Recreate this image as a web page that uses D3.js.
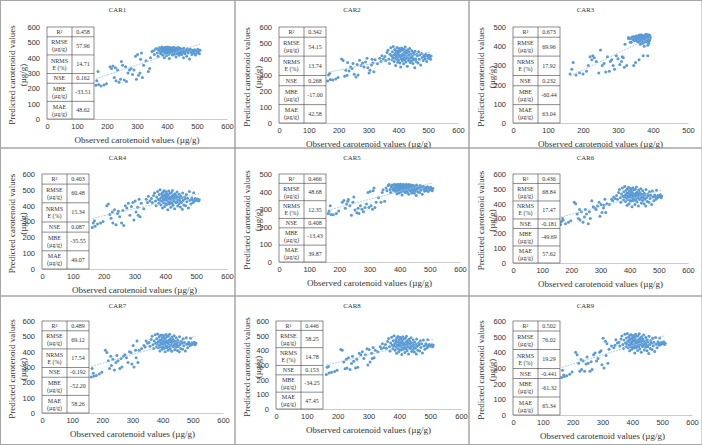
<!DOCTYPE html>
<html>
<head>
<meta charset="utf-8">
<script src="https://cdn.jsdelivr.net/npm/d3@7"></script>
<style>
body { margin: 0; background: #fff; }
svg { display: block; font-family: "Liberation Serif", "Times New Roman", serif; }
</style>
</head>
<body>
<script>
//Panel names
var panelNames = ["CAR1", "CAR2", "CAR3", "CAR4", "CAR5", "CAR6", "CAR7", "CAR8", "CAR9"];

//Axis maxima
var xMax = [600, 600, 500, 600, 600, 600, 600, 600, 600];
var yMax = [600, 600, 500, 600, 500, 600, 600, 600, 600];

//Observed values (shared by all panels except CAR3)
var observed = [163, 166, 170, 172, 180, 190, 198, 210, 215, 220,
  224, 228, 230, 235, 240, 245, 248, 252, 258, 262,
  265, 270, 275, 280, 285, 290, 295, 298, 302, 305,
  310, 312, 315, 318, 322, 330, 338, 342, 345, 350,
  355, 358, 362, 365, 368, 370, 372, 375, 377, 379,
  380, 382, 383, 385, 386, 388, 389, 390, 391, 392,
  393, 394, 395, 396, 397, 398, 399, 400, 401, 402,
  403, 404, 405, 406, 407, 408, 409, 410, 411, 412,
  413, 414, 415, 416, 417, 418, 419, 420, 421, 422,
  423, 424, 425, 426, 427, 428, 430, 431, 432, 434,
  435, 436, 437, 438, 440, 441, 442, 444, 445, 446,
  448, 449, 450, 452, 453, 455, 456, 458, 460, 462,
  464, 466, 468, 470, 472, 475, 478, 480, 483, 486,
  488, 490, 492, 495, 497, 500, 503, 505, 508, 510];

var observedCar3 = [163, 168, 172, 180, 190, 200, 210, 215, 220, 225,
  228, 232, 238, 245, 250, 255, 260, 265, 270, 275,
  278, 282, 286, 290, 295, 300, 305, 310, 312, 315,
  318, 320, 325, 330, 335, 345, 350, 360, 372, 385,
  330, 335, 338, 340, 342, 345, 347, 348, 350, 352,
  353, 355, 356, 357, 358, 359, 360, 361, 362, 363,
  364, 365, 366, 367, 368, 369, 370, 371, 372, 373,
  374, 375, 376, 377, 378, 379, 380, 381, 382, 383,
  384, 385, 386, 386, 387, 387, 388, 388, 389, 389,
  390, 390, 391, 391, 392, 385, 380, 375, 370, 365];

//Predicted values per model
var predictedCar1 = [220, 250, 310, 225, 215, 222, 230, 340, 330, 345,
  270, 335, 250, 320, 240, 260, 375, 350, 255, 340,
  245, 300, 320, 330, 290, 320, 410, 260, 420, 285,
  300, 390, 430, 270, 350, 380, 310, 330, 400, 440,
  445, 420, 455, 460, 430, 410, 450, 465, 440, 425,
  458, 435, 470, 448, 415, 462, 438, 452, 400, 466,
  444, 428, 456, 468, 436, 412, 460, 447, 432, 455,
  470, 441, 420, 463, 450, 395, 458, 437, 466, 445,
  428, 452, 461, 433, 447, 418, 465, 440, 455, 430,
  468, 446, 422, 459, 437, 451, 405, 463, 442, 426,
  457, 449, 434, 466, 415, 453, 440, 428, 460, 445,
  438, 420, 455, 432, 448, 400, 462, 436, 425, 450,
  443, 410, 458, 430, 447, 392, 455, 435, 420, 448,
  440, 428, 452, 418, 445, 430, 455, 440, 425, 448];

var predictedCar2 = [263, 300, 310, 272, 268, 275, 285, 400, 390, 292,
  330, 298, 378, 325, 350, 340, 372, 305, 288, 365,
  300, 392, 360, 375, 350, 382, 405, 345, 312, 330,
  362, 398, 375, 320, 395, 370, 405, 385, 420, 400,
  415, 390, 440, 455, 400, 372, 430, 470, 420, 395,
  445, 410, 478, 425, 385, 460, 405, 435, 360, 450,
  418, 398, 438, 472, 408, 380, 452, 428, 392, 442,
  465, 412, 375, 448, 422, 350, 458, 402, 468, 415,
  388, 432, 455, 398, 428, 370, 462, 410, 440, 395,
  475, 420, 382, 450, 405, 436, 355, 458, 415, 390,
  445, 425, 400, 465, 378, 432, 410, 388, 452, 418,
  405, 372, 440, 395, 428, 345, 448, 402, 385, 430,
  420, 375, 445, 398, 425, 362, 435, 410, 390, 422,
  415, 400, 430, 385, 420, 405, 425, 412, 398, 418];

var predictedCar3 = [255, 280, 315, 250, 262, 255, 270, 300, 345, 330,
  350, 340, 320, 260, 380, 300, 310, 265, 345, 270,
  320, 330, 300, 280, 350, 335, 305, 320, 345, 340,
  290, 410, 300, 440, 420, 300, 315, 330, 350, 350,
  445, 440, 420, 448, 435, 450, 428, 440, 445, 432,
  455, 425, 447, 438, 452, 420, 443, 458, 430, 446,
  410, 450, 437, 460, 425, 442, 455, 433, 448, 418,
  452, 440, 428, 458, 445, 435, 450, 422, 456, 440,
  430, 460, 445, 425, 452, 438, 447, 415, 458, 432,
  444, 428, 455, 438, 446, 405, 462, 400, 415, 425];

var predictedCar4 = [262, 290, 305, 270, 285, 290, 300, 400, 410, 345,
  320, 360, 290, 375, 280, 350, 365, 330, 290, 370,
  275, 400, 385, 415, 340, 395, 420, 310, 430, 360,
  390, 340, 440, 330, 415, 380, 440, 420, 460, 430,
  445, 420, 465, 480, 430, 400, 455, 490, 440, 415,
  470, 435, 500, 448, 405, 475, 428, 460, 385, 485,
  444, 418, 462, 495, 436, 395, 470, 447, 412, 458,
  488, 432, 408, 473, 450, 375, 466, 425, 492, 440,
  410, 452, 478, 422, 447, 390, 482, 438, 460, 415,
  496, 446, 402, 468, 430, 455, 380, 476, 442, 418,
  465, 449, 425, 486, 398, 453, 436, 412, 472, 445,
  428, 392, 460, 420, 448, 378, 480, 432, 405, 455,
  443, 400, 470, 425, 447, 385, 490, 435, 410, 448,
  438, 420, 482, 430, 445, 440, 435, 442, 430, 438];

var predictedCar5 = [275, 290, 320, 270, 268, 275, 290, 340, 350, 305,
  330, 345, 355, 320, 265, 340, 370, 295, 280, 305,
  275, 320, 300, 285, 310, 330, 395, 310, 400, 320,
  300, 405, 420, 310, 340, 365, 340, 395, 410, 345,
  420, 405, 435, 440, 412, 395, 428, 438, 418, 408,
  436, 415, 442, 425, 400, 433, 410, 430, 388, 440,
  422, 402, 432, 441, 414, 392, 437, 424, 406, 430,
  442, 417, 398, 435, 426, 380, 438, 411, 440, 420,
  404, 429, 437, 409, 424, 395, 439, 416, 433, 407,
  441, 421, 396, 434, 412, 428, 385, 440, 419, 403,
  432, 423, 408, 438, 392, 427, 416, 400, 436, 420,
  412, 390, 431, 405, 424, 378, 437, 413, 398, 428,
  421, 395, 434, 408, 425, 385, 430, 414, 402, 423,
  418, 406, 428, 400, 420, 410, 425, 415, 405, 418];

var predictedCar6 = [260, 280, 300, 290, 265, 275, 285, 410, 400, 330,
  300, 360, 290, 345, 275, 310, 360, 330, 265, 345,
  300, 420, 380, 370, 360, 385, 410, 315, 395, 340,
  370, 390, 430, 340, 400, 395, 430, 420, 445, 435,
  455, 430, 475, 495, 440, 410, 465, 505, 450, 425,
  480, 445, 515, 458, 415, 490, 438, 470, 390, 500,
  454, 428, 472, 510, 446, 400, 485, 457, 422, 468,
  503, 442, 418, 488, 460, 380, 476, 435, 508, 450,
  420, 462, 493, 432, 457, 395, 498, 448, 470, 425,
  512, 456, 412, 478, 440, 465, 385, 492, 452, 428,
  475, 459, 435, 500, 405, 463, 446, 422, 487, 455,
  438, 400, 470, 430, 458, 385, 495, 442, 415, 465,
  453, 410, 480, 435, 457, 395, 485, 445, 420, 458,
  448, 430, 490, 440, 455, 445, 450, 460, 440, 452];

var predictedCar7 = [235, 290, 260, 240, 245, 255, 265, 410, 395, 340,
  290, 370, 310, 350, 280, 330, 375, 340, 290, 355,
  300, 370, 380, 360, 330, 400, 395, 320, 440, 300,
  410, 360, 470, 330, 410, 420, 440, 430, 470, 455,
  460, 435, 480, 500, 445, 420, 470, 510, 455, 430,
  485, 450, 515, 465, 425, 495, 440, 475, 405, 505,
  458, 432, 478, 508, 448, 415, 490, 462, 428, 472,
  506, 446, 422, 492, 465, 400, 482, 438, 512, 455,
  426, 468, 498, 436, 460, 410, 502, 452, 476, 430,
  514, 462, 418, 484, 444, 470, 402, 496, 456, 432,
  480, 464, 440, 504, 412, 468, 450, 428, 490, 458,
  442, 408, 475, 434, 462, 400, 498, 446, 420, 470,
  456, 415, 485, 438, 460, 405, 490, 448, 425, 462,
  452, 440, 488, 445, 458, 450, 455, 462, 445, 455];

var predictedCar8 = [235, 285, 290, 245, 250, 255, 265, 405, 400, 320,
  275, 340, 280, 350, 270, 310, 360, 325, 280, 340,
  285, 380, 370, 390, 345, 370, 410, 300, 405, 320,
  380, 345, 420, 350, 400, 390, 425, 410, 445, 420,
  440, 415, 460, 480, 425, 395, 450, 490, 435, 410,
  465, 430, 500, 445, 400, 470, 422, 455, 380, 485,
  438, 412, 458, 495, 430, 390, 472, 442, 405, 452,
  488, 428, 402, 475, 448, 372, 462, 420, 492, 435,
  408, 447, 478, 418, 440, 385, 482, 432, 456, 410,
  496, 440, 398, 465, 425, 450, 375, 476, 437, 412,
  460, 445, 420, 485, 392, 448, 432, 405, 470, 440,
  422, 388, 455, 415, 442, 375, 478, 428, 400, 450,
  438, 395, 465, 420, 445, 382, 470, 430, 408, 445,
  435, 418, 472, 428, 440, 432, 430, 438, 425, 436];

var predictedCar9 = [240, 285, 255, 245, 250, 260, 275, 400, 385, 330,
  280, 355, 290, 345, 280, 325, 370, 330, 280, 340,
  290, 385, 395, 345, 360, 400, 410, 320, 490, 300,
  470, 380, 455, 330, 420, 440, 430, 445, 480, 460,
  465, 440, 485, 505, 450, 425, 478, 515, 460, 435,
  492, 455, 520, 470, 430, 500, 445, 482, 410, 510,
  462, 438, 484, 512, 452, 420, 495, 468, 432, 478,
  508, 450, 428, 498, 470, 395, 488, 442, 516, 460,
  430, 474, 502, 440, 465, 412, 506, 456, 482, 436,
  518, 466, 422, 490, 448, 476, 400, 500, 460, 438,
  485, 468, 445, 510, 415, 472, 455, 432, 495, 462,
  446, 410, 480, 438, 466, 392, 502, 450, 425, 475,
  460, 418, 490, 442, 464, 405, 495, 452, 430, 468,
  458, 445, 492, 450, 462, 455, 460, 468, 450, 458];

//Statistics tables
var metricLabels = [["R²"], ["RMSE", "(µg/g)"], ["NRMS", "E (%)"], ["NSE"], ["MBE", "(µg/g)"], ["MAE", "(µg/g)"]];
var metricValues = [
  ["0.458", "57.96", "14.71", "0.162", "-33.51", "48.62"],
  ["0.342", "54.15", "13.74", "0.268", "-17.00", "42.58"],
  ["0.673", "69.96", "17.92", "0.232", "-60.44", "63.04"],
  ["0.403", "60.48", "15.34", "0.087", "-35.55", "49.07"],
  ["0.466", "48.68", "12.35", "0.408", "-13.43", "39.87"],
  ["0.436", "68.84", "17.47", "-0.181", "-49.69", "57.62"],
  ["0.489", "69.12", "17.54", "-0.192", "-52.20", "58.26"],
  ["0.446", "58.25", "14.78", "0.153", "-34.25", "47.45"],
  ["0.502", "76.02", "19.29", "-0.441", "-61.32", "65.34"]
];

var predicted = [predictedCar1, predictedCar2, predictedCar3, predictedCar4, predictedCar5,
                 predictedCar6, predictedCar7, predictedCar8, predictedCar9];

var svgwidth = 702,
    svgheight = 445;

var svg = d3.select("body").append("svg")
    .attr("width", svgwidth)
    .attr("height", svgheight);

//Cell edges of the 3x3 grid
var colEdges = [0, 235, 469, 702],
    rowEdges = [0, 148, 296, 445];

//Plot box inside each cell: left, top, right, bottom
var boxes = [
  [47, 27, 227, 119], [44, 27, 223, 123], [44, 27, 219, 123],
  [42, 26, 227, 121], [44, 26, 225, 114], [44, 26, 219, 115],
  [42, 25, 223, 117], [41, 25, 226, 113], [44, 25, 223, 119]
];

//Row heights of the stats table (relative)
var rowWeights = [1, 1.85, 1.9, 1, 1.85, 1.8];

panelNames.forEach(function(name, i) {
  var col = i % 3, row = Math.floor(i / 3);
  var cx = colEdges[col], cy = rowEdges[row];
  var cw = colEdges[col + 1] - cx, ch = rowEdges[row + 1] - cy;
  var b = boxes[i];

  var g = svg.append("g")
      .attr("transform", "translate(" + cx + "," + cy + ")");

  //Panel border
  g.append("rect")
      .attr("x", col == 0 ? 0.5 : 0)
      .attr("y", row == 0 ? 0.5 : 0)
      .attr("width", cw - (col == 0 ? 0.5 : 0))
      .attr("height", ch - (row == 0 ? 0.5 : 0) - (row == 2 ? 0.5 : 0))
      .attr("fill", "none")
      .attr("stroke", "#a6a6a6")
      .attr("stroke-width", 1);

  var x = d3.scaleLinear().domain([0, xMax[i]]).range([b[0], b[2]]),
      y = d3.scaleLinear().domain([0, yMax[i]]).range([b[3], b[1]]);

  //Title
  g.append("text")
      .attr("x", cw / 2)
      .attr("y", 11.5)
      .attr("text-anchor", "middle")
      .attr("font-size", "6.8px")
      .attr("fill", "#333")
      .text(name);

  //x axis
  var xa = g.append("g")
      .attr("transform", "translate(0," + b[3] + ")")
      .call(d3.axisBottom(x).tickValues(d3.range(0, xMax[i] + 1, 100)).tickSize(0).tickSizeOuter(0).tickPadding(5));
  xa.select(".domain").attr("stroke", "#bfbfbf").attr("stroke-width", 0.8);
  xa.selectAll("text").attr("font-family", null).attr("font-size", "7.5px").attr("fill", "#333");

  //y axis
  var ya = g.append("g")
      .attr("transform", "translate(" + b[0] + ",0)")
      .call(d3.axisLeft(y).tickValues(d3.range(0, yMax[i] + 1, 100)).tickSize(0).tickPadding(7));
  ya.select(".domain").remove();
  ya.selectAll("text").attr("font-family", null).attr("font-size", "7.5px").attr("fill", "#333");

  //Axis titles
  g.append("text")
      .attr("x", (b[0] + b[2]) / 2)
      .attr("y", b[3] + 24)
      .attr("text-anchor", "middle")
      .attr("font-size", "9px")
      .attr("fill", "#333")
      .text("Observed carotenoid values (µg/g)");

  var midY = (b[1] + b[3]) / 2 + 2;
  g.append("text")
      .attr("transform", "translate(15," + midY + ") rotate(-90)")
      .attr("text-anchor", "middle")
      .attr("font-size", "9px")
      .attr("fill", "#333")
      .text("Predicted carotenoid values");
  g.append("text")
      .attr("transform", "translate(26," + midY + ") rotate(-90)")
      .attr("text-anchor", "middle")
      .attr("font-size", "9px")
      .attr("fill", "#333")
      .text("(µg/g)");

  //Points
  var xs = i == 2 ? observedCar3 : observed;
  var data = xs.map(function(v, k) { return {obs: v, pred: predicted[i][k]}; });

  g.selectAll(".dot")
    .data(data)
    .enter().append("circle")
      .attr("class", "dot")
      .attr("cx", function(d) { return x(d.obs); })
      .attr("cy", function(d) { return y(d.pred); })
      .attr("r", 1.5)
      .attr("fill", "#5b9bd5");

  //Linear trendline (least squares)
  var mx = d3.mean(data, function(d) { return d.obs; }),
      my = d3.mean(data, function(d) { return d.pred; });
  var sxy = d3.sum(data, function(d) { return (d.obs - mx) * (d.pred - my); }),
      sxx = d3.sum(data, function(d) { return (d.obs - mx) * (d.obs - mx); });
  var slope = sxy / sxx, icpt = my - slope * mx;
  var x0 = d3.min(xs), x1 = d3.max(xs);
  g.append("line")
      .attr("x1", x(x0)).attr("y1", y(icpt + slope * x0))
      .attr("x2", x(x1)).attr("y2", y(icpt + slope * x1))
      .attr("stroke", "#9dc3e6")
      .attr("stroke-width", 0.8)
      .attr("stroke-dasharray", "2,1");

  //Stats table
  var tw1 = 25, tw2 = 22;
  var th = b[3] - b[1];
  var total = d3.sum(rowWeights);
  var tg = g.append("g").attr("transform", "translate(" + b[0] + "," + b[1] + ")");
  tg.append("rect")
      .attr("width", tw1 + tw2)
      .attr("height", th)
      .attr("fill", "#fff")
      .attr("stroke", "#404040")
      .attr("stroke-width", 0.6);
  tg.append("line")
      .attr("x1", tw1).attr("x2", tw1)
      .attr("y1", 0).attr("y2", th)
      .attr("stroke", "#404040").attr("stroke-width", 0.6);

  var yy = 0;
  metricLabels.forEach(function(lab, r) {
    var h = th * rowWeights[r] / total;
    if (r > 0) {
      tg.append("line")
          .attr("x1", 0).attr("x2", tw1 + tw2)
          .attr("y1", yy).attr("y2", yy)
          .attr("stroke", "#404040").attr("stroke-width", 0.6);
    }
    var mid = yy + h / 2;
    var t = tg.append("text")
        .attr("text-anchor", "middle")
        .attr("font-size", "6px")
        .attr("fill", "#333");
    lab.forEach(function(line, k) {
      t.append("tspan")
          .attr("x", tw1 / 2)
          .attr("y", mid + 2 + (k - (lab.length - 1) / 2) * 7)
          .text(line);
    });
    tg.append("text")
        .attr("x", tw1 + tw2 / 2)
        .attr("y", mid + 2)
        .attr("text-anchor", "middle")
        .attr("font-size", "6px")
        .attr("fill", "#333")
        .text(metricValues[i][r]);
    yy += h;
  });
});
</script>
</body>
</html>
